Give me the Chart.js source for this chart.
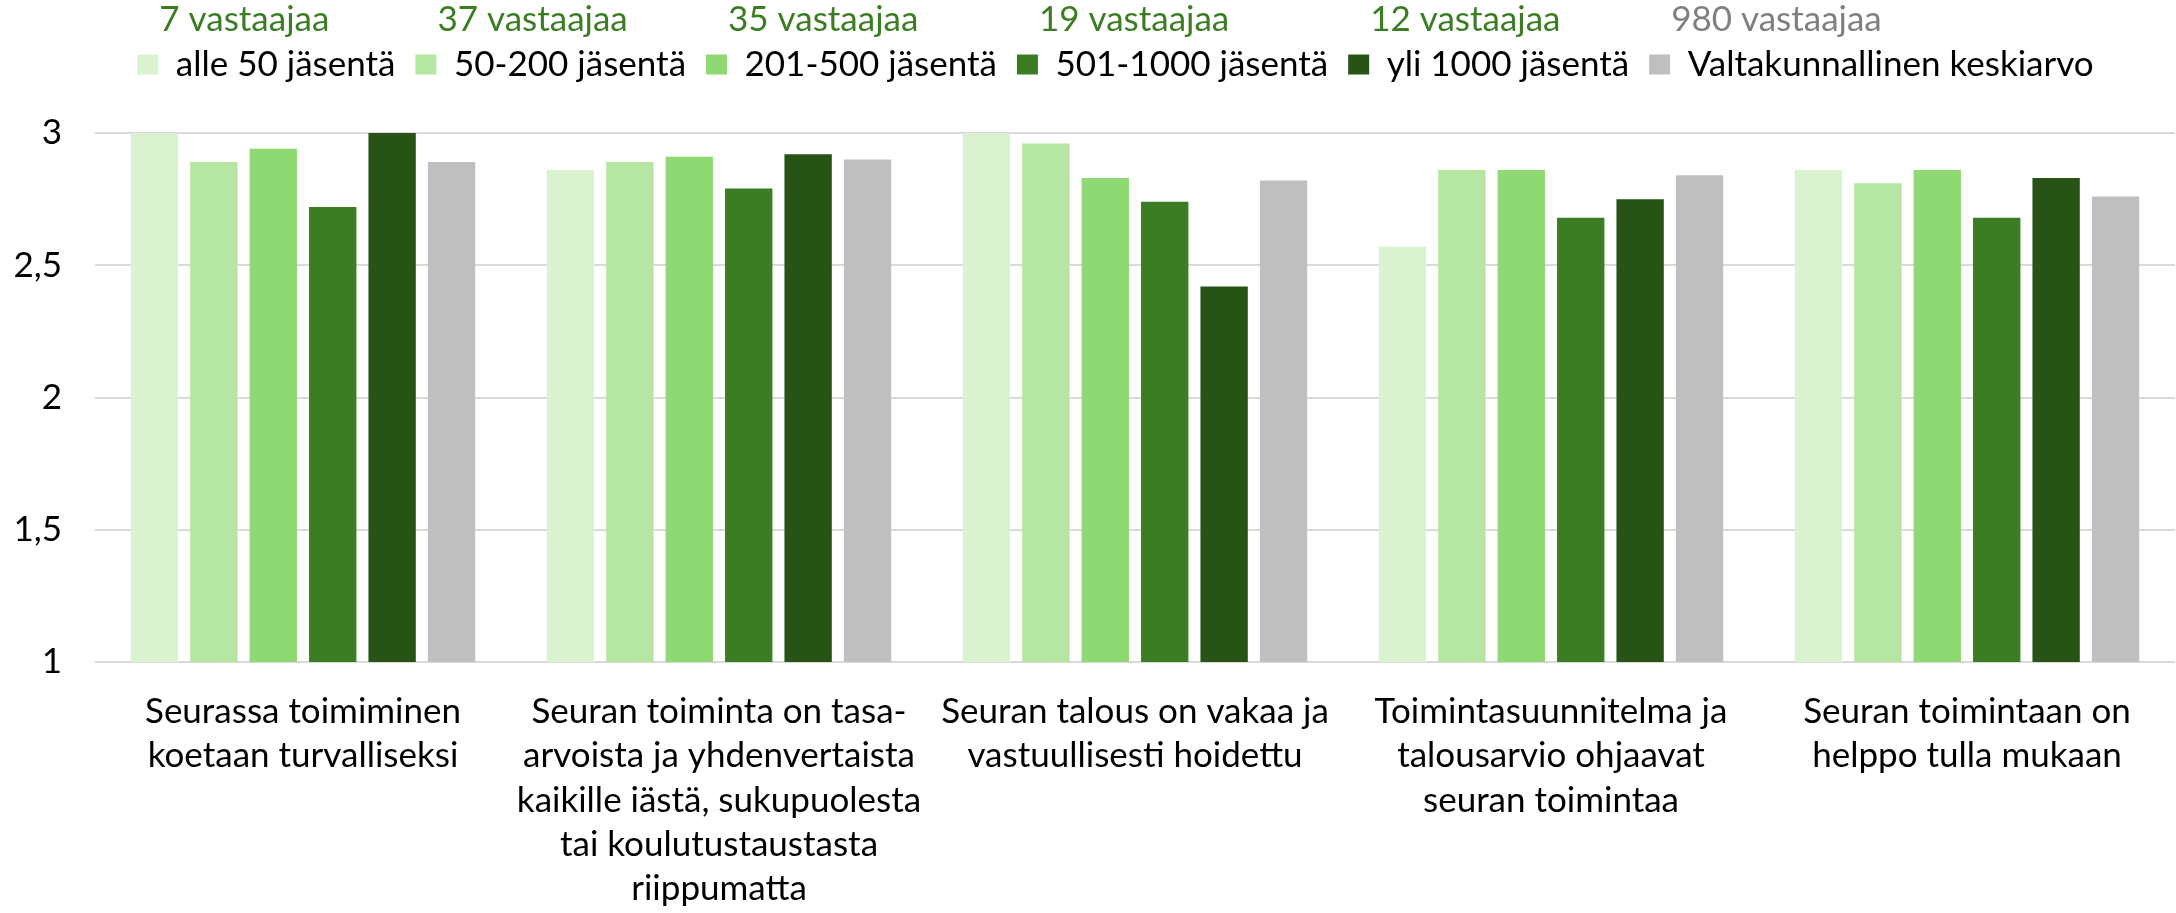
<!DOCTYPE html>
<html>
<head>
<meta charset="utf-8">
<script src="https://cdn.jsdelivr.net/npm/chart.js@4.4.0/dist/chart.umd.min.js"></script>
<style>
  html, body { margin: 0; padding: 0; background: #fff; }
</style>
</head>
<body>
<canvas id="seuraChart" width="2176" height="913"></canvas>
<script>
// kategoriat (x-akseli), rivitetty kuten alkuperäisessä
const categories = [
  ['Seurassa toimiminen', 'koetaan turvalliseksi'],
  ['Seuran toiminta on tasa-', 'arvoista ja yhdenvertaista', 'kaikille iästä, sukupuolesta', 'tai koulutustaustasta', 'riippumatta'],
  ['Seuran talous on vakaa ja', 'vastuullisesti hoidettu'],
  ['Toimintasuunnitelma ja', 'talousarvio ohjaavat', 'seuran toimintaa'],
  ['Seuran toimintaan on', 'helppo tulla mukaan']
];

const seriesNames = ['alle 50 jäsentä', '50-200 jäsentä', '201-500 jäsentä', '501-1000 jäsentä', 'yli 1000 jäsentä', 'Valtakunnallinen keskiarvo'];
const respondents = ['7 vastaajaa', '37 vastaajaa', '35 vastaajaa', '19 vastaajaa', '12 vastaajaa', '980 vastaajaa'];

// sarjojen arvot
const alle50 = [3.00, 2.86, 3.00, 2.57, 2.86];
const v50_200 = [2.89, 2.89, 2.96, 2.86, 2.81];
const v201_500 = [2.94, 2.91, 2.83, 2.86, 2.86];
const v501_1000 = [2.72, 2.79, 2.74, 2.68, 2.68];
const yli1000 = [3.00, 2.92, 2.42, 2.75, 2.83];
const keskiarvo = [2.89, 2.90, 2.82, 2.84, 2.76];

// y-akselin asteikko
const yTicks = [1, 1.5, 2, 2.5, 3];
const yTickLabels = ['1', '1,5', '2', '2,5', '3'];

const colors = ['#DAF2D0', '#B5E6A2', '#8ED973', '#3B7D23', '#275317', '#BFBFBF'];
const countColors = ['#3B7D23', '#3B7D23', '#3B7D23', '#3B7D23', '#3B7D23', '#7F7F7F'];

const FONT = 'Lato';

// legendan tila + vastaajamäärät legendan yläpuolelle
const countPlugin = {
  id: 'respondentCounts',
  beforeLayout(chart) {
    const lg = chart.legend;
    if (lg && !lg._extraSpace) {
      const fit = lg.fit;
      lg.fit = function () {
        fit.call(this);
        this.height += 41;
      };
      lg._extraSpace = true;
    }
  },
  afterLayout(chart) {
    // legenda hieman oikealle kuten alkuperäisessä
    chart.legend.left += 56;
  },
  afterDraw(chart) {
    const boxes = chart.legend.legendHitBoxes;
    const ctx = chart.ctx;
    ctx.save();
    ctx.font = '35px ' + FONT;
    ctx.textAlign = 'left';
    ctx.textBaseline = 'alphabetic';
    boxes.forEach(function (b, i) {
      ctx.fillStyle = countColors[i];
      ctx.fillText(respondents[i], b.left + 22, b.top - 16);
    });
    ctx.restore();
  }
};

const seriesData = [alle50, v50_200, v201_500, v501_1000, yli1000, keskiarvo];

const ctx = document.getElementById('seuraChart').getContext('2d');
new Chart(ctx, {
  type: 'bar',
  data: {
    labels: categories,
    datasets: seriesNames.map(function (name, i) {
      return {
        label: name,
        data: seriesData[i],
        backgroundColor: colors[i],
        borderWidth: 0,
        categoryPercentage: 0.857,
        barPercentage: 0.797
      };
    })
  },
  options: {
    responsive: false,
    animation: false,
    layout: { padding: { top: 27, left: 0, right: 1, bottom: 0 } },
    plugins: {
      legend: {
        position: 'top',
        labels: {
          boxWidth: 21,
          boxHeight: 20,
          padding: 20,
          color: '#000',
          font: { family: FONT, size: 35 }
        }
      },
      tooltip: { enabled: false }
    },
    scales: {
      x: {
        grid: { display: false },
        border: { display: false },
        ticks: {
          color: '#000',
          maxRotation: 0,
          autoSkip: false,
          padding: 20,
          font: { family: FONT, size: 35, lineHeight: 1.26 }
        },
        afterFit: function (scale) { scale.height = 251; }
      },
      y: {
        min: 1,
        max: 3,
        border: { display: false },
        grid: { color: '#D9D9D9', lineWidth: 2, drawTicks: false },
        ticks: {
          stepSize: 0.5,
          padding: 33,
          color: '#000',
          font: { family: FONT, size: 35 },
          callback: function (v) {
            const i = yTicks.indexOf(v);
            return i >= 0 ? yTickLabels[i] : '';
          }
        },
        afterFit: function (scale) { scale.width = 95; }
      }
    }
  },
  plugins: [countPlugin]
});
</script>
</body>
</html>
